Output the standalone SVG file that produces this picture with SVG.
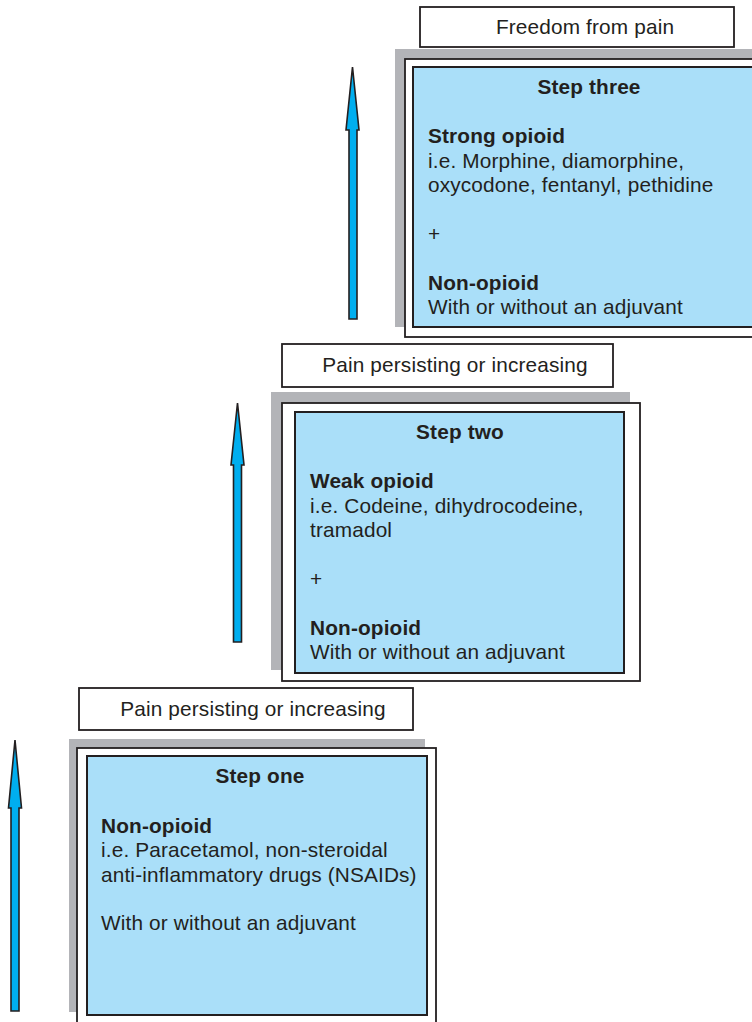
<svg xmlns="http://www.w3.org/2000/svg" width="752" height="1022" viewBox="0 0 752 1022">
<style>
.lbl{fill:#fff;stroke:#231f20;stroke-width:1.8}
.sh{fill:#b3b4b8}
.outer{fill:#fff;stroke:#231f20;stroke-width:1.8}
.inner{fill:#aadff9;stroke:#231f20;stroke-width:2}
.arr{fill:#00aeef;stroke:#231f20;stroke-width:1.6;stroke-linejoin:miter}
text{font-family:"Liberation Sans",Arial,sans-serif;font-size:20.8px;fill:#231f20;letter-spacing:0.15px}
.b{font-weight:bold}
.c{text-anchor:middle}
</style>
<rect width="752" height="1022" fill="#fff"/>
<g id="label-freedom">
<rect class="lbl" x="420" y="7" width="314" height="40"/>
<text class="c" x="585" y="34">Freedom from pain</text>
</g>
<g id="step-three">
<rect class="sh" x="395" y="49" width="370" height="278"/>
<rect class="outer" x="405" y="59" width="370" height="278"/>
<rect class="inner" x="413" y="67" width="360" height="260"/>
<text class="b c" x="589" y="94">Step three</text>
<text class="b" x="428" y="143">Strong opioid</text>
<text x="428" y="167.5">i.e. Morphine, diamorphine,</text>
<text x="428" y="192">oxycodone, fentanyl, pethidine</text>
<text x="428" y="241">+</text>
<text class="b" x="428" y="290">Non-opioid</text>
<text x="428" y="314">With or without an adjuvant</text>
</g>
<g id="label-persist-2">
<rect class="lbl" x="282" y="344" width="331" height="43"/>
<text class="c" x="455" y="372">Pain persisting or increasing</text>
</g>
<g id="step-two">
<rect class="sh" x="271" y="392" width="359" height="278"/>
<rect class="outer" x="282" y="403" width="358" height="278"/>
<rect class="inner" x="295" y="412" width="329" height="261"/>
<text class="b c" x="460" y="439">Step two</text>
<text class="b" x="310" y="488">Weak opioid</text>
<text x="310" y="512.5">i.e. Codeine, dihydrocodeine,</text>
<text x="310" y="537">tramadol</text>
<text x="310" y="586">+</text>
<text class="b" x="310" y="635">Non-opioid</text>
<text x="310" y="659">With or without an adjuvant</text>
</g>
<g id="label-persist-1">
<rect class="lbl" x="79" y="688" width="334" height="42"/>
<text class="c" x="253" y="716">Pain persisting or increasing</text>
</g>
<g id="step-one">
<rect class="sh" x="69" y="739" width="356" height="273"/>
<rect class="outer" x="77" y="748" width="359" height="284"/>
<rect class="inner" x="87" y="756" width="340" height="259"/>
<text class="b c" x="260" y="783">Step one</text>
<text class="b" x="101" y="833">Non-opioid</text>
<text x="101" y="857">i.e. Paracetamol, non-steroidal</text>
<text x="101" y="881.5">anti-inflammatory drugs (NSAIDs)</text>
<text x="101" y="930">With or without an adjuvant</text>
</g>
<g id="connectors">
<path class="arr" d="M352.5,67 L359,130 L357,130 L357,319 L349,319 L349,130 L346,130 Z"/>
<path class="arr" d="M237.5,403 L244,465 L241.5,465 L241.5,642 L233.5,642 L233.5,465 L231,465 Z"/>
<path class="arr" d="M15,740 L21.5,808 L19,808 L19,1011 L11,1011 L11,808 L8.5,808 Z"/>
</g>
</svg>
